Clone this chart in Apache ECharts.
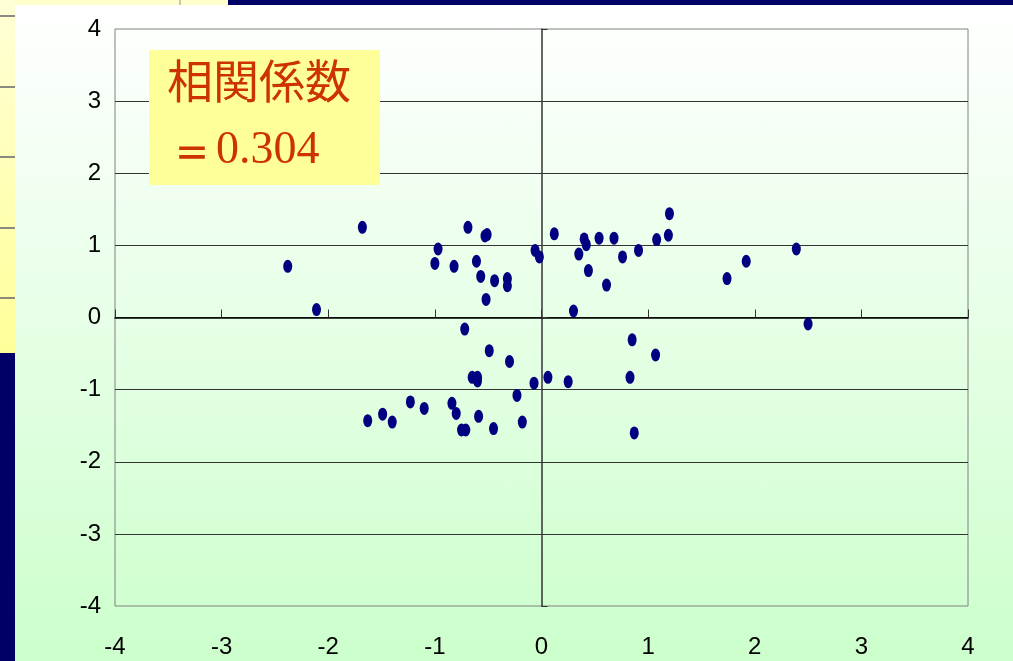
<!DOCTYPE html>
<html>
<head>
<meta charset="utf-8">
<script src="https://cdn.jsdelivr.net/npm/echarts@6/dist/echarts.min.js"></script>
<style>
  html, body { margin: 0; padding: 0; width: 1013px; height: 661px; overflow: hidden; background: #FFFFCC; }
  .abs { position: absolute; }
  #chart { position: absolute; left: 0; top: 0; width: 1013px; height: 661px; }
</style>
</head>
<body>
<div class="abs" style="left:0;top:0;width:228px;height:5px;background:#FFFFCC;"></div>
<div class="abs" style="left:179px;top:0;width:2px;height:5px;background:#C8C8B0;"></div>
<div class="abs" style="left:228px;top:0;width:785px;height:5px;background:#000066;"></div>
<div class="abs" style="left:0;top:0;width:15px;height:353px;background:linear-gradient(#FFFFD6,#FFFF99);"></div>
<div class="abs" style="left:0;top:15px;width:15px;height:2px;background:#8A8A80;"></div>
<div class="abs" style="left:0;top:86px;width:15px;height:2px;background:#8A8A80;"></div>
<div class="abs" style="left:0;top:156px;width:15px;height:2px;background:#8A8A80;"></div>
<div class="abs" style="left:0;top:227px;width:15px;height:2px;background:#8A8A80;"></div>
<div class="abs" style="left:0;top:297px;width:15px;height:2px;background:#8A8A80;"></div>
<div class="abs" style="left:0;top:353px;width:15px;height:308px;background:#000066;"></div>
<div class="abs" style="left:15px;top:5px;width:998px;height:656px;background:linear-gradient(#FFFFFF,#CCFFCC);"></div>
<div id="chart"></div>
<script>
// Data values
const xValues = [
  -1.68, -0.69, -0.53, -0.51, -0.97, -2.38, -1.00, -0.82, -0.61, -0.57, -0.44, -0.32, -0.32, -0.52, -2.11, -0.06, -0.02,
  -0.72, -0.49, -0.30, -0.65, -0.60, -0.60, -0.07, -0.23, -1.23, -1.10, -0.84, -0.80, -0.59, -1.63, -1.49, -1.40, -0.75, -0.71, -0.45, -0.18,
  0.12, 1.20, 1.19, 1.08, 0.40, 0.42, 0.54, 0.68, 0.35, 0.44, 0.61, 0.76, 0.91, 1.74, 1.92, 2.39, 0.30,
  0.06, 2.50, 0.85, 1.07, 0.83, 0.25, 0.87
];
const yValues = [
  1.25, 1.25, 1.13, 1.15, 0.95, 0.71, 0.75, 0.71, 0.78, 0.57, 0.51, 0.54, 0.44, 0.25, 0.11, 0.93, 0.84,
  -0.16, -0.46, -0.61, -0.83, -0.83, -0.88, -0.91, -1.08, -1.17, -1.26, -1.19, -1.33, -1.37, -1.43, -1.34, -1.45, -1.56, -1.56, -1.54, -1.45,
  1.16, 1.44, 1.14, 1.08, 1.09, 1.01, 1.10, 1.10, 0.88, 0.65, 0.45, 0.84, 0.93, 0.54, 0.78, 0.95, 0.09,
  -0.83, -0.09, -0.31, -0.52, -0.83, -0.89, -1.60
];
const axisMin = -4;
const axisMax = 4;
const axisStep = 1;
const annotationTitle = '相関係数';
const annotationEq = '＝';
const annotationValue = '0.304';

const points = xValues.map((x, i) => [x, yValues[i]]);

const chart = echarts.init(document.getElementById('chart'), null, { renderer: 'canvas' });
const labelFont = { fontSize: 24, color: '#000', fontFamily: '"Liberation Sans", Arial, sans-serif' };

chart.setOption({
  backgroundColor: 'transparent',
  animation: false,
  grid: {
    left: 115, top: 29, right: 45, bottom: 55,
    show: true, borderColor: '#808080', borderWidth: 1, backgroundColor: 'transparent'
  },
  xAxis: [
    {
      type: 'value', min: axisMin, max: axisMax, interval: axisStep, position: 'bottom',
      axisLine: { show: true, onZero: true, onZeroAxisIndex: 0, lineStyle: { color: '#000', width: 1.5 } },
      axisTick: { show: true, inside: true, length: 8, lineStyle: { color: '#333' } },
      axisLabel: { show: false },
      splitLine: { show: false }
    },
    {
      type: 'value', min: axisMin, max: axisMax, interval: axisStep, position: 'bottom',
      axisLine: { show: false, onZero: false },
      axisTick: { show: false },
      axisLabel: Object.assign({ margin: 29 }, labelFont),
      splitLine: { show: false }
    }
  ],
  yAxis: [
    {
      type: 'value', min: axisMin, max: axisMax, interval: axisStep, position: 'left',
      axisLine: { show: true, onZero: true, onZeroAxisIndex: 0, lineStyle: { color: '#333', width: 1.5 } },
      axisTick: { show: true, inside: true, length: 6, lineStyle: { color: '#333' } },
      axisLabel: { show: false },
      splitLine: { show: true, showMinLine: false, showMaxLine: false, lineStyle: { color: '#333', width: 1 } }
    },
    {
      type: 'value', min: axisMin, max: axisMax, interval: axisStep, position: 'left',
      axisLine: { show: false, onZero: false },
      axisTick: { show: false },
      axisLabel: Object.assign({ margin: 14 }, labelFont),
      splitLine: { show: false }
    }
  ],
  series: [{
    type: 'scatter',
    xAxisIndex: 0, yAxisIndex: 0,
    data: points,
    symbol: 'circle',
    symbolSize: [9, 13],
    itemStyle: { color: '#000080', opacity: 1 },
    z: 5
  }],
  graphic: [
    { type: 'rect', shape: { x: 149, y: 50, width: 231, height: 135 }, style: { fill: '#FFFF99' }, z: 100 },
    { type: 'text', z: 101, style: { x: 167, y: 81, text: annotationTitle, fill: '#CC3300',
        font: '46px "Noto Sans CJK JP", sans-serif', textAlign: 'left', textVerticalAlign: 'middle' } },
    { type: 'text', z: 101, style: { x: 174, y: 153, text: annotationEq, fill: '#CC3300',
        font: 'bold 36px "Noto Sans CJK JP", sans-serif', textAlign: 'left', textVerticalAlign: 'middle' } },
    { type: 'text', z: 101, style: { x: 216, y: 151, text: annotationValue, fill: '#CC3300',
        font: '46px "Liberation Serif", "Times New Roman", serif', textAlign: 'left', textVerticalAlign: 'middle' } }
  ]
});
</script>
</body>
</html>
